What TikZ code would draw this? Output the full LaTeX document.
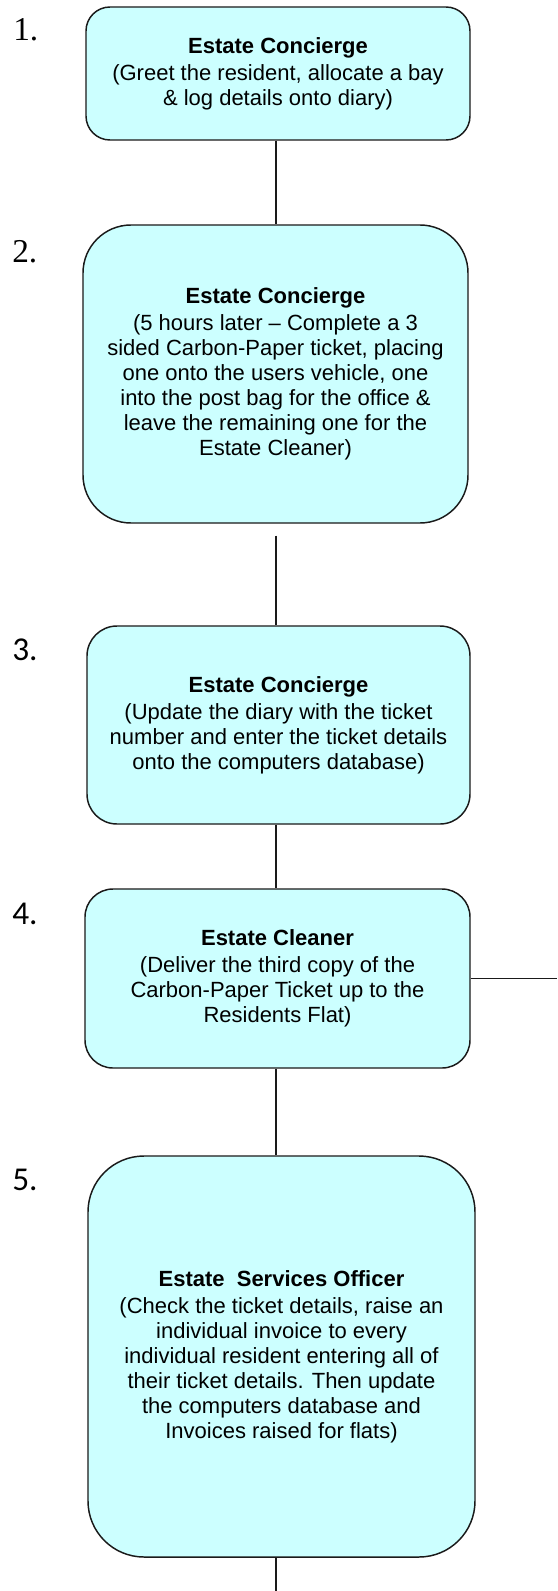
\documentclass[tikz,border=0pt]{standalone}
\usepackage{fontspec}
\setmainfont{Liberation Sans}
\newfontfamily\numserif{Liberation Serif}
\newfontfamily\numsans{Carlito}
\definecolor{boxfill}{HTML}{CCFFFF}
\definecolor{edge}{HTML}{1A1A1A}
\begin{document}
\begin{tikzpicture}[x=0.75pt,y=-0.75pt,
  stepbox/.style={draw=edge, line width=1.1pt, fill=boxfill, align=center, inner sep=0pt,
    font=\fontsize{16.5}{18.75}\selectfont},
  conn/.style={draw=edge, line width=1.1pt},
  numa/.style={font=\numserif\fontsize{25}{30}\selectfont, anchor=base west, inner sep=0pt},
  numb/.style={font=\numsans\fontsize{25}{30}\selectfont, anchor=base west, inner sep=0pt}]
\useasboundingbox (0,0) rectangle (557,1591);
\fill[white] (0,0) rectangle (557,1591);
\coordinate (spine) at (276,0);
\coordinate (redge) at (557,0);
\coordinate (bot) at (276,1591);

\node[stepbox, minimum width=288pt, minimum height=99.75pt, rounded corners=18pt] (b1) at (278,73.5)
  {\textbf{Estate Concierge}\\[1.5pt](Greet the resident, allocate a bay\\\& log details onto diary)};
\node[stepbox, minimum width=288.75pt, minimum height=223.5pt, rounded corners=36pt] (b2) at (275.5,374)
  {\textbf{Estate Concierge}\\[1.5pt](5 hours later -- Complete a 3\\sided Carbon-Paper ticket, placing\\one onto the users vehicle, one\\into the post bag for the office \&\\leave the remaining one for the\\Estate Cleaner)};
\node[stepbox, minimum width=287.25pt, minimum height=148.5pt, rounded corners=22.5pt] (b3) at (278.5,725)
  {\textbf{Estate Concierge}\\[1.5pt](Update the diary with the ticket\\number and enter the ticket details\\onto the computers database)};
\node[stepbox, minimum width=288.75pt, minimum height=134.25pt, rounded corners=21pt] (b4) at (277.5,978.5)
  {\textbf{Estate Cleaner}\\[1.5pt](Deliver the third copy of the\\Carbon-Paper Ticket up to the\\Residents Flat)};
\node[stepbox, minimum width=290.25pt, minimum height=300.75pt, rounded corners=42pt] (b5) at (281.5,1356.5)
  {\textbf{Estate\ \ Services Officer}\\[1.5pt](Check the ticket details, raise an\\individual invoice to every\\individual resident entering all of\\their ticket details. Then update\\the computers database and\\Invoices raised for flats)};

\node[numa] (n1) at (13,41) {1.};
\node[numa] (n2) at (12,262) {2.};
\node[numb] (n3) at (12,660) {3.};
\node[numb] (n4) at (12,924) {4.};
\node[numb] (n5) at (12,1190) {5.};

\draw[conn] (b1.south -| spine) -- (b2.north -| spine);
\draw[conn] ([yshift=-9pt]b2.south -| spine) -- (b3.north -| spine);
\draw[conn] (b3.south -| spine) -- (b4.north -| spine);
\draw[conn] (b4.south -| spine) -- (b5.north -| spine);
\draw[conn] (b5.south -| spine) -- (bot);
\draw[conn] (b4.east) -- (b4.east -| redge);
\end{tikzpicture}
\end{document}
